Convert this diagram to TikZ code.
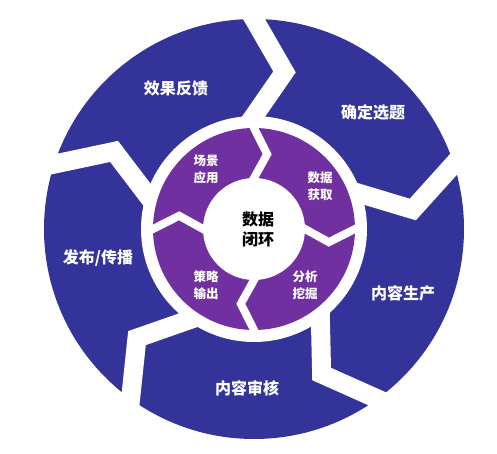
\documentclass[tikz,border=0pt]{standalone}
\usepackage{fontspec}
\setmainfont{Noto Sans CJK SC}
\usetikzlibrary{calc}
\definecolor{ringblue}{RGB}{51,51,153}
\definecolor{ringpurple}{RGB}{112,48,160}
\tikzstyle{outerlabel}=[text=white,font=\fontsize{16}{20}\selectfont\bfseries]
\tikzstyle{innerlabel}=[text=white,align=center,font=\fontsize{12.5}{17}\selectfont\bfseries]
\tikzstyle{hublabel}=[text=black,align=center,font=\fontsize{16}{20}\selectfont\bfseries]
\newcommand{\drawgap}[6][19pt]{% Syntax: [width]{angle}{turn}{outer radius}{tip radius}{inner radius}
\draw[white,line width=#1,line join=miter] ($(#2-#3:#5)!1.35!(#2:#4)$) -- (#2-#3:#5) -- ($(#2-#3:#5)!1.35!(#2:#6)$);
}
\begin{document}
\begin{tikzpicture}[x=1pt,y=1pt]
\useasboundingbox[fill=white] (-254,-225) rectangle (243,229);
% outer ring, five arrows
\fill[ringblue] (0,0) circle (210);
\foreach \a in {90,18,-54,-126,162} {
	\drawgap{\a}{11}{210}{160}{113}
}
\fill[white] (0,0) circle (113);
% inner ring, four arrows
\fill[ringpurple] (0,0) circle (101);
\foreach \a in {90,0,-90,180} {
	\drawgap[8pt]{\a}{10}{101}{76}{51}
}
\fill[white] (0,0) circle (51);
\node[outerlabel] (feedback) at (-78,141) {效果反馈};
\node[outerlabel] (topic) at (119,117) {确定选题};
\node[outerlabel] (produce) at (149,-64) {内容生产};
\node[outerlabel] (review) at (-7,-159) {内容审核};
\node[outerlabel] (publish) at (-156,-29) {发布/传播};
\node[innerlabel] (scene) at (-48,60) {场景\\应用};
\node[innerlabel] (acquire) at (66,43) {数据\\获取};
\node[innerlabel] (mining) at (51,-56) {分析\\挖掘};
\node[innerlabel] (strategy) at (-48,-56) {策略\\输出};
\node[hublabel] (hub) at (4,0) {数据\\闭环};
\end{tikzpicture}
\end{document}
